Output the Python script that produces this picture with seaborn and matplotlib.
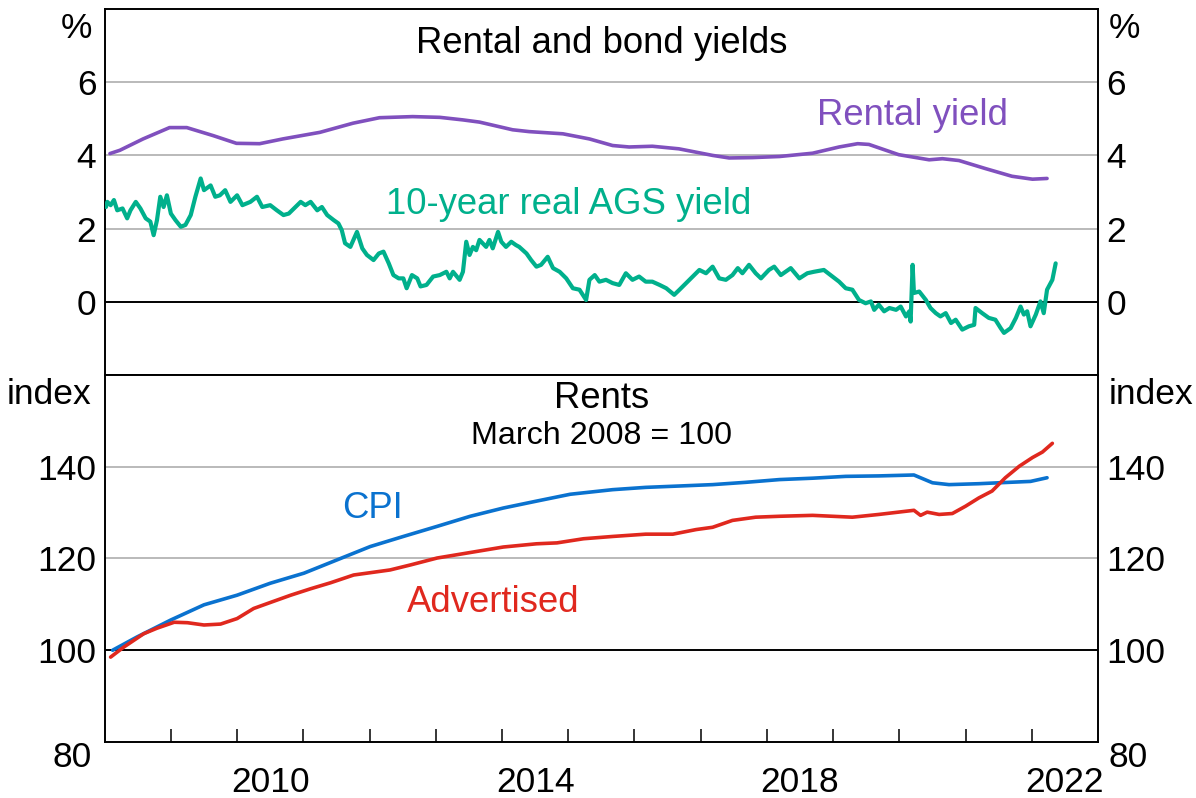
import matplotlib
matplotlib.use("Agg")
import matplotlib.pyplot as plt
import seaborn as sns
import pandas as pd

# ---------------- data (decimal years) ----------------
rental_t = [2008.08, 2008.23, 2008.58, 2008.98, 2009.24, 2009.64, 2009.99, 2010.34, 2010.69, 2011.25,
            2011.75, 2012.15, 2012.65, 2013.06, 2013.41, 2013.66, 2014.16, 2014.41, 2014.92, 2015.32,
            2015.67, 2015.92, 2016.27, 2016.67, 2017.18, 2017.43, 2017.78, 2018.19, 2018.69, 2019.09,
            2019.37, 2019.54, 2019.99, 2020.45, 2020.65, 2020.90, 2021.30, 2021.70, 2022.01, 2022.23]
rental_v = [4.05, 4.14, 4.45, 4.76, 4.76, 4.54, 4.33, 4.32, 4.45, 4.63,
            4.88, 5.03, 5.06, 5.04, 4.97, 4.91, 4.70, 4.65, 4.59, 4.45,
            4.27, 4.23, 4.25, 4.18, 4.00, 3.93, 3.94, 3.97, 4.06, 4.23,
            4.32, 4.30, 4.02, 3.88, 3.91, 3.86, 3.64, 3.43, 3.35, 3.37]

ags_t = [2008.02, 2008.04, 2008.09, 2008.14, 2008.19, 2008.27, 2008.34, 2008.39, 2008.47, 2008.54,
         2008.62, 2008.69, 2008.74, 2008.79, 2008.84, 2008.89, 2008.94, 2009.00, 2009.07, 2009.15,
         2009.22, 2009.30, 2009.37, 2009.45, 2009.50, 2009.60, 2009.67, 2009.74, 2009.82, 2009.90,
         2010.00, 2010.08, 2010.20, 2010.30, 2010.38, 2010.50, 2010.60, 2010.70, 2010.78, 2010.88,
         2010.96, 2011.03, 2011.11, 2011.21, 2011.28, 2011.36, 2011.46, 2011.53, 2011.58, 2011.63,
         2011.71, 2011.81, 2011.89, 2011.96, 2012.06, 2012.14, 2012.21, 2012.29, 2012.36, 2012.44,
         2012.51, 2012.56, 2012.64, 2012.72, 2012.77, 2012.86, 2012.96, 2013.06, 2013.16, 2013.21,
         2013.26, 2013.36, 2013.41, 2013.46, 2013.51, 2013.56, 2013.61, 2013.66, 2013.76, 2013.81,
         2013.86, 2013.94, 2013.99, 2014.06, 2014.14, 2014.21, 2014.26, 2014.37, 2014.44, 2014.52,
         2014.59, 2014.69, 2014.77, 2014.87, 2014.97, 2015.07, 2015.17, 2015.27, 2015.32, 2015.40,
         2015.47, 2015.57, 2015.67, 2015.77, 2015.87, 2015.97, 2016.07, 2016.17, 2016.27, 2016.38,
         2016.48, 2016.60, 2016.68, 2016.78, 2016.88, 2016.98, 2017.08, 2017.18, 2017.28, 2017.38,
         2017.48, 2017.56, 2017.63, 2017.73, 2017.83, 2017.91, 2018.03, 2018.11, 2018.21, 2018.36,
         2018.49, 2018.61, 2018.71, 2018.86, 2018.99, 2019.09, 2019.19, 2019.29, 2019.39, 2019.49,
         2019.57, 2019.62, 2019.69, 2019.77, 2019.85, 2019.95, 2020.02, 2020.10, 2020.15, 2020.17,
         2020.20, 2020.22, 2020.30, 2020.40, 2020.47, 2020.55, 2020.62, 2020.70, 2020.78, 2020.85,
         2020.95, 2021.05, 2021.13, 2021.15, 2021.25, 2021.35, 2021.45, 2021.53, 2021.58, 2021.68,
         2021.76, 2021.83, 2021.88, 2021.93, 2021.98, 2022.06, 2022.13, 2022.18, 2022.23, 2022.31,
         2022.36]
ags_v = [2.59, 2.73, 2.64, 2.78, 2.50, 2.55, 2.28, 2.50, 2.73, 2.55,
         2.28, 2.19, 1.82, 2.23, 2.87, 2.59, 2.91, 2.41, 2.23, 2.05,
         2.10, 2.37, 2.87, 3.37, 3.05, 3.18, 2.87, 2.91, 3.05, 2.73,
         2.91, 2.64, 2.73, 2.87, 2.59, 2.64, 2.50, 2.37, 2.41, 2.59,
         2.73, 2.64, 2.73, 2.50, 2.59, 2.37, 2.23, 2.14, 1.96, 1.60,
         1.50, 1.91, 1.46, 1.28, 1.14, 1.32, 1.37, 1.05, 0.73, 0.64,
         0.64, 0.37, 0.73, 0.64, 0.42, 0.46, 0.69, 0.73, 0.82, 0.64,
         0.82, 0.60, 0.82, 1.64, 1.28, 1.50, 1.41, 1.69, 1.50, 1.69,
         1.46, 1.91, 1.64, 1.50, 1.64, 1.55, 1.50, 1.32, 1.14, 0.96,
         1.01, 1.23, 0.92, 0.82, 0.64, 0.37, 0.33, 0.05, 0.60, 0.73,
         0.55, 0.60, 0.51, 0.46, 0.78, 0.60, 0.69, 0.55, 0.55, 0.46,
         0.37, 0.19, 0.33, 0.51, 0.69, 0.87, 0.78, 0.96, 0.64, 0.60,
         0.73, 0.92, 0.78, 1.01, 0.78, 0.64, 0.87, 0.96, 0.73, 0.92,
         0.64, 0.78, 0.82, 0.87, 0.69, 0.55, 0.37, 0.33, 0.05, -0.04,
         0.01, -0.22, -0.08, -0.26, -0.17, -0.22, -0.13, -0.40, -0.26, -0.54,
         1.01, 0.24, 0.28, 0.05, -0.17, -0.31, -0.40, -0.31, -0.58, -0.49,
         -0.76, -0.67, -0.63, -0.17, -0.31, -0.44, -0.49, -0.72, -0.85, -0.72,
         -0.44, -0.13, -0.35, -0.26, -0.67, -0.35, 0.01, -0.31, 0.33, 0.60,
         1.05]

cpi_t = [2008.12, 2008.49, 2009.00, 2009.50, 2010.00, 2010.50, 2011.01, 2011.51, 2012.01, 2012.51,
         2013.02, 2013.52, 2014.02, 2014.52, 2015.03, 2015.67, 2016.17, 2016.68, 2017.18, 2017.68,
         2018.19, 2018.69, 2019.19, 2019.69, 2020.22, 2020.50, 2020.75, 2021.20, 2021.50, 2021.98,
         2022.23]
cpi_v = [100.0, 102.9, 106.6, 109.9, 112.0, 114.6, 116.8, 119.7, 122.6, 124.8,
         127.0, 129.2, 131.0, 132.5, 134.0, 135.0, 135.5, 135.8, 136.1, 136.6,
         137.2, 137.5, 137.9, 138.0, 138.2, 136.5, 136.1, 136.3, 136.5, 136.8,
         137.6]

adv_t = [2008.09, 2008.29, 2008.59, 2008.79, 2009.05, 2009.25, 2009.50, 2009.75, 2010.00, 2010.25,
         2010.50, 2010.81, 2011.11, 2011.41, 2011.76, 2012.01, 2012.31, 2012.62, 2013.02, 2013.52,
         2014.02, 2014.52, 2014.83, 2015.23, 2015.67, 2016.17, 2016.58, 2016.93, 2017.18, 2017.48,
         2017.83, 2018.19, 2018.69, 2019.29, 2019.69, 2020.22, 2020.32, 2020.42, 2020.60, 2020.80,
         2021.00, 2021.20, 2021.40, 2021.60, 2021.81, 2022.01, 2022.16, 2022.31]
adv_v = [98.5, 100.7, 103.6, 104.8, 106.1, 106.0, 105.5, 105.7, 106.9, 109.1,
         110.4, 112.0, 113.4, 114.7, 116.4, 116.9, 117.5, 118.6, 120.1, 121.3,
         122.5, 123.2, 123.4, 124.3, 124.8, 125.3, 125.3, 126.3, 126.8, 128.3,
         129.0, 129.2, 129.4, 129.0, 129.6, 130.5, 129.4, 130.1, 129.6, 129.8,
         131.4, 133.2, 134.7, 137.6, 140.1, 142.0, 143.2, 145.1]

year_labels = [2010, 2014, 2018, 2022]
top_ticks = [0, 2, 4, 6]
bottom_ticks = [100, 120, 140]

# ---------------- style ----------------
sns.set_theme(style="white")
plt.rcParams['font.family'] = ['Liberation Sans', 'DejaVu Sans']
plt.rcParams['text.color'] = 'black'
plt.rcParams['xtick.color'] = 'black'
plt.rcParams['ytick.color'] = 'black'
plt.rcParams['xtick.labelcolor'] = 'black'
plt.rcParams['ytick.labelcolor'] = 'black'

C_RENT = "#8050BE"
C_AGS = "#00B08C"
C_CPI = "#0A72CF"
C_ADV = "#E0281E"
GRID = "#B4B4B4"
FS = 25.5
FL = 26.3
LW = 2.6

fig = plt.figure(figsize=(11.96, 7.98), dpi=100)
ax1 = fig.add_axes([0.0875, 0.5301, 0.8306, 0.4586])
ax2 = fig.add_axes([0.0875, 0.0702, 0.8306, 0.4599])

df_rent = pd.DataFrame({"t": rental_t, "v": rental_v})
df_ags = pd.DataFrame({"t": ags_t, "v": ags_v})
df_cpi = pd.DataFrame({"t": cpi_t, "v": cpi_v})
df_adv = pd.DataFrame({"t": adv_t, "v": adv_v})

sns.lineplot(data=df_ags, x="t", y="v", ax=ax1, color=C_AGS, linewidth=3.0, zorder=3)
sns.lineplot(data=df_rent, x="t", y="v", ax=ax1, color=C_RENT, linewidth=LW, zorder=3)
sns.lineplot(data=df_cpi, x="t", y="v", ax=ax2, color=C_CPI, linewidth=LW, zorder=3)
sns.lineplot(data=df_adv, x="t", y="v", ax=ax2, color=C_ADV, linewidth=LW, zorder=4)

for ax, ylim, ticks, base in [(ax1, (-2, 8), top_ticks, 0), (ax2, (80, 160), bottom_ticks, 100)]:
    ax.set_xlim(2008, 2023)
    ax.set_ylim(*ylim)
    ax.set_xlabel("")
    ax.set_ylabel("")
    ax.set_yticks(ticks)
    ax.set_yticklabels([str(t) for t in ticks])
    ax.tick_params(axis='y', length=0, labelsize=FS, labelleft=True, labelright=True, pad=6)
    for t in ticks:
        if t != base:
            ax.axhline(t, color=GRID, linewidth=1.3, zorder=1)
    ax.axhline(base, color="black", linewidth=1.4, zorder=2)
    for s in ax.spines.values():
        s.set_visible(True)
        s.set_color("black")
        s.set_linewidth(1.4)

ax1.set_xticks([])
ax2.set_xticks([y + 0.5 for y in year_labels])
ax2.set_xticklabels([str(y) for y in year_labels])
ax2.set_xticks(list(range(2009, 2023)), minor=True)
ax2.tick_params(axis='x', which='major', length=0, labelsize=FS, pad=17)
ax2.tick_params(axis='x', which='minor', direction='in', length=9.5, width=1.1,
                color="black", bottom=True, top=False)

# unit labels and bottom-most tick label
for x, ha in [(-0.013, 'right'), (1.011, 'left')]:
    ax1.text(x, 0.946, "%", transform=ax1.transAxes, ha=ha, va='center', fontsize=FS)
    ax2.text(x, 0.948, "index", transform=ax2.transAxes, ha=ha, va='center', fontsize=FS)
    ax2.text(x, 0.003, "80", transform=ax2.transAxes, ha=ha, va='top', fontsize=FS)

# titles
ax1.text(0.5, 0.906, "Rental and bond yields", transform=ax1.transAxes, ha='center', va='center', fontsize=FL)
ax2.text(0.5, 0.937, "Rents", transform=ax2.transAxes, ha='center', va='center', fontsize=FL)
ax2.text(0.5, 0.835, "March 2008 = 100", transform=ax2.transAxes, ha='center', va='center', fontsize=23.2)

# series labels
ax1.text(2020.2, 5.1, "Rental yield", color=C_RENT, ha='center', va='center', fontsize=FL)
ax1.text(2015.0, 2.67, "10-year real AGS yield", color=C_AGS, ha='center', va='center', fontsize=FL)
ax2.text(2012.05, 131.0, "CPI", color=C_CPI, ha='center', va='center', fontsize=FL)
ax2.text(2013.87, 110.5, "Advertised", color=C_ADV, ha='center', va='center', fontsize=FL)

fig.savefig("out.png", dpi=100)
